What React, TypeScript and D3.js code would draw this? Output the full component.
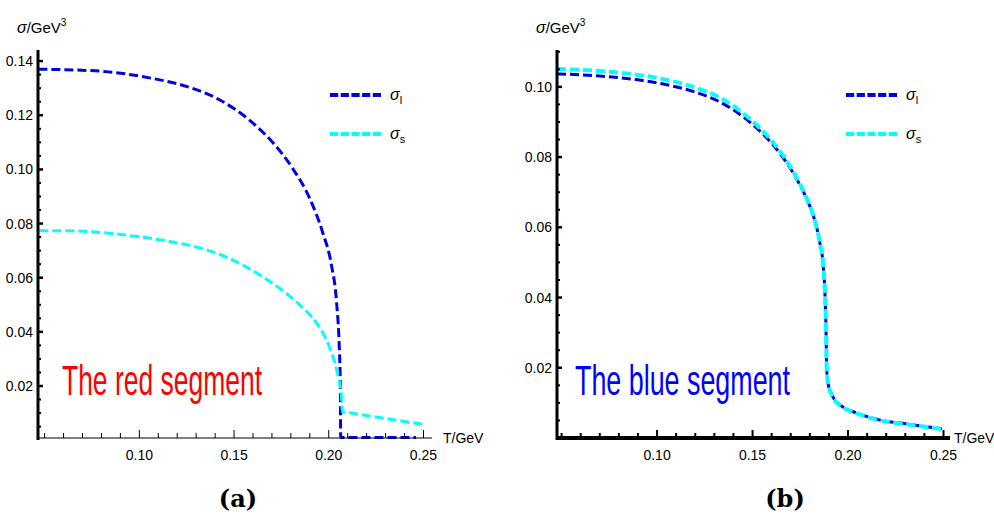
import React, { useRef, useEffect } from 'react';
import * as d3 from 'd3';

// panel (a), the red segment: [T, sigma]
const redSigmaL: [number, number][] = [
  [0.0467, 0.137], [0.0789, 0.1363], [0.1053, 0.1338], [0.1227, 0.1311], [0.1407, 0.1263],
  [0.1581, 0.1182], [0.1702, 0.1101], [0.1808, 0.1005], [0.1898, 0.0895], [0.1967, 0.0769],
  [0.2014, 0.0647], [0.204, 0.0518], [0.2056, 0.0334], [0.2061, 0.0212], [0.2063, 0.001],
  [0.246, 0.001],
];
const redSigmaS: [number, number][] = [
  [0.0472, 0.0774], [0.0646, 0.0773], [0.0826, 0.0765], [0.1, 0.0751], [0.1174, 0.0732],
  [0.1354, 0.0703], [0.1491, 0.0666], [0.1618, 0.0618], [0.1739, 0.0562], [0.1845, 0.05],
  [0.1935, 0.0433], [0.2003, 0.0345], [0.2045, 0.0249], [0.2067, 0.016], [0.2072, 0.0105],
  [0.2109, 0.0101], [0.25, 0.0058],
];

// panel (b), the blue segment
const blueSigmaL: [number, number][] = [
  [0.0476, 0.1037], [0.07, 0.1031], [0.09, 0.102], [0.105, 0.1006], [0.12, 0.0985],
  [0.135, 0.0951], [0.145, 0.0915], [0.155, 0.0868], [0.165, 0.0806], [0.172, 0.0748],
  [0.178, 0.0685], [0.182, 0.063], [0.185, 0.0563], [0.187, 0.049], [0.188, 0.04],
  [0.1885, 0.03], [0.1888, 0.0202], [0.1895, 0.0157], [0.1921, 0.0117], [0.1974, 0.0088],
  [0.2047, 0.0071], [0.2168, 0.0051], [0.2309, 0.004], [0.2492, 0.0026],
];
const blueSigmaS: [number, number][] = [
  [0.0476, 0.1051], [0.07, 0.1045], [0.09, 0.1034], [0.105, 0.102], [0.12, 0.0998],
  [0.135, 0.0963], [0.145, 0.0925], [0.155, 0.0876], [0.165, 0.0812], [0.172, 0.0752],
  [0.178, 0.0687], [0.182, 0.063], [0.185, 0.0563], [0.187, 0.049], [0.188, 0.04],
  [0.1885, 0.03], [0.1888, 0.0202], [0.1895, 0.0157], [0.1921, 0.0116], [0.1974, 0.0087],
  [0.2047, 0.007], [0.2168, 0.005], [0.2309, 0.0039], [0.2492, 0.0025],
];

const xTicks = [0.1, 0.15, 0.2, 0.25];
const yTicksRed = [0.02, 0.04, 0.06, 0.08, 0.1, 0.12, 0.14];
const yTicksBlue = [0.02, 0.04, 0.06, 0.08, 0.1];
const legendSubs = ['l', 's'];
const panelNotes = ['The red segment', 'The blue segment'];
const captions = ['(a)', '(b)'];

const BLUE = '#0000e0';
const CYAN = '#00ffff';
const FONT = "'Liberation Sans Narrow', 'Liberation Sans', Arial, sans-serif";

function drawPanel(svg, p) {
  const g = svg.append('g');
  const x = d3.scaleLinear().domain(p.xDomain).range([p.left, p.right]);
  const y = d3.scaleLinear().domain(p.yDomain).range([p.bottom, p.top]);
  const line = d3.line().x(d => x(d[0])).y(d => y(d[1])).curve(d3.curveMonotoneX);

  // curves
  g.append('path').datum(p.sigL).attr('d', line)
    .attr('fill', 'none').attr('stroke', BLUE).attr('stroke-width', 3)
    .attr('stroke-dasharray', '9 4');
  g.append('path').datum(p.sigS).attr('d', line)
    .attr('fill', 'none').attr('stroke', CYAN).attr('stroke-width', p.cyanWidth)
    .attr('stroke-dasharray', '9 4');

  // x axis
  g.append('line').attr('x1', p.left).attr('x2', p.right)
    .attr('y1', p.bottom).attr('y2', p.bottom)
    .attr('stroke', '#000').attr('stroke-width', p.xAxisWidth);
  const xMinor = d3.range(0.05, 0.2505, 0.01).filter(v => !xTicks.some(t => Math.abs(t - v) < 1e-6));
  g.selectAll('.xminor').data(xMinor).join('line')
    .attr('x1', d => x(d)).attr('x2', d => x(d))
    .attr('y1', p.bottom).attr('y2', p.bottom - 5)
    .attr('stroke', '#000').attr('stroke-width', p.xTickWidth);
  g.selectAll('.xmajor').data(xTicks).join('line')
    .attr('x1', d => x(d)).attr('x2', d => x(d))
    .attr('y1', p.bottom).attr('y2', p.bottom - 8)
    .attr('stroke', '#000').attr('stroke-width', p.xTickWidth);
  g.selectAll('.xlab').data(xTicks).join('text')
    .attr('x', d => x(d)).attr('y', p.bottom + 22)
    .attr('text-anchor', 'middle').attr('font-family', FONT).attr('font-size', 14)
    .text(d => d3.format('.2f')(d));
  g.append('text').attr('x', p.right + p.xLabelGap).attr('y', p.bottom + 5)
    .attr('font-family', FONT).attr('font-size', 14).text('T/GeV');

  // y axis
  g.append('line').attr('x1', p.left).attr('x2', p.left)
    .attr('y1', p.top).attr('y2', p.bottom + 2)
    .attr('stroke', '#000').attr('stroke-width', 3);
  const yMinor = d3.range(0.005, p.yDomain[1], 0.005).filter(v => !p.yTicks.some(t => Math.abs(t - v) < 1e-6));
  g.selectAll('.yminor').data(yMinor).join('line')
    .attr('x1', p.left).attr('x2', p.left + 3)
    .attr('y1', d => y(d)).attr('y2', d => y(d))
    .attr('stroke', '#000').attr('stroke-width', 2);
  g.selectAll('.ymajor').data(p.yTicks).join('line')
    .attr('x1', p.left).attr('x2', p.left + 5)
    .attr('y1', d => y(d)).attr('y2', d => y(d))
    .attr('stroke', '#000').attr('stroke-width', 2.5);
  g.selectAll('.ylab').data(p.yTicks).join('text')
    .attr('x', p.left - 5).attr('y', d => y(d) + 5)
    .attr('text-anchor', 'end').attr('font-family', FONT).attr('font-size', 14)
    .text(d => d3.format('.2f')(d));
  const yl = g.append('text').attr('x', p.left - 21).attr('y', 33)
    .attr('font-family', FONT).attr('font-size', 15);
  yl.append('tspan').attr('font-style', 'italic').attr('font-size', 16).text('σ');
  yl.append('tspan').text('/GeV');
  yl.append('tspan').attr('dy', -7).attr('font-size', 10).text('3');

  // legend
  const legend = g.selectAll('.leg').data([
    { color: BLUE, sub: legendSubs[0] },
    { color: CYAN, sub: legendSubs[1] },
  ]).join('g').attr('transform', (d, i) => `translate(${p.legendX},${95 + i * 39})`);
  legend.append('line').attr('x1', 0).attr('x2', 51)
    .attr('stroke', d => d.color).attr('stroke-width', 4).attr('stroke-dasharray', '8.2 2.5');
  const lt = legend.append('text').attr('x', 60).attr('y', 5)
    .attr('font-family', FONT).attr('font-size', 16);
  lt.append('tspan').attr('font-style', 'italic').text('σ');
  lt.append('tspan').attr('dy', 4).attr('font-size', 11).text(d => d.sub);

  // note inside the plot
  g.append('text').attr('x', p.noteX).attr('y', 395)
    .attr('font-family', "'Liberation Sans', Arial, sans-serif").attr('font-size', 43)
    .attr('fill', p.noteColor)
    .attr('textLength', p.noteWidth).attr('lengthAdjust', 'spacingAndGlyphs')
    .text(p.note);

  // caption
  g.append('text').attr('x', p.captionX).attr('y', 507)
    .attr('text-anchor', 'middle').attr('font-family', "'DejaVu Serif', serif")
    .attr('font-weight', 'bold').attr('font-size', 24)
    .text(p.caption);
}

function App() {
  const svgRef = useRef(null);

  useEffect(() => {
    const svg = d3.select(svgRef.current);
    svg.selectAll('*').remove();

    drawPanel(svg, {
      xDomain: [0.0465, 0.2545], yDomain: [0.0008, 0.1441],
      left: 38, right: 432, top: 50, bottom: 438,
      sigL: redSigmaL, sigS: redSigmaS, yTicks: yTicksRed,
      xAxisWidth: 1.2, xTickWidth: 1, cyanWidth: 3, xLabelGap: 11,
      legendX: 330, note: panelNotes[0], noteColor: '#ff0000', noteX: 62, noteWidth: 200,
      caption: captions[0], captionX: 238,
    });
    drawPanel(svg, {
      xDomain: [0.0476, 0.2534], yDomain: [0, 0.1105],
      left: 557, right: 950, top: 50, bottom: 438,
      sigL: blueSigmaL, sigS: blueSigmaS, yTicks: yTicksBlue,
      xAxisWidth: 4, xTickWidth: 2, cyanWidth: 4, xLabelGap: 4,
      legendX: 846, note: panelNotes[1], noteColor: '#0000ff', noteX: 575, noteWidth: 215,
      caption: captions[1], captionX: 785,
    });
  }, []);

  return (
    <svg ref={svgRef} width={994} height={516}
      style={{ position: 'absolute', left: 0, top: 0, background: '#fff' }} />
  );
}

export default App;
